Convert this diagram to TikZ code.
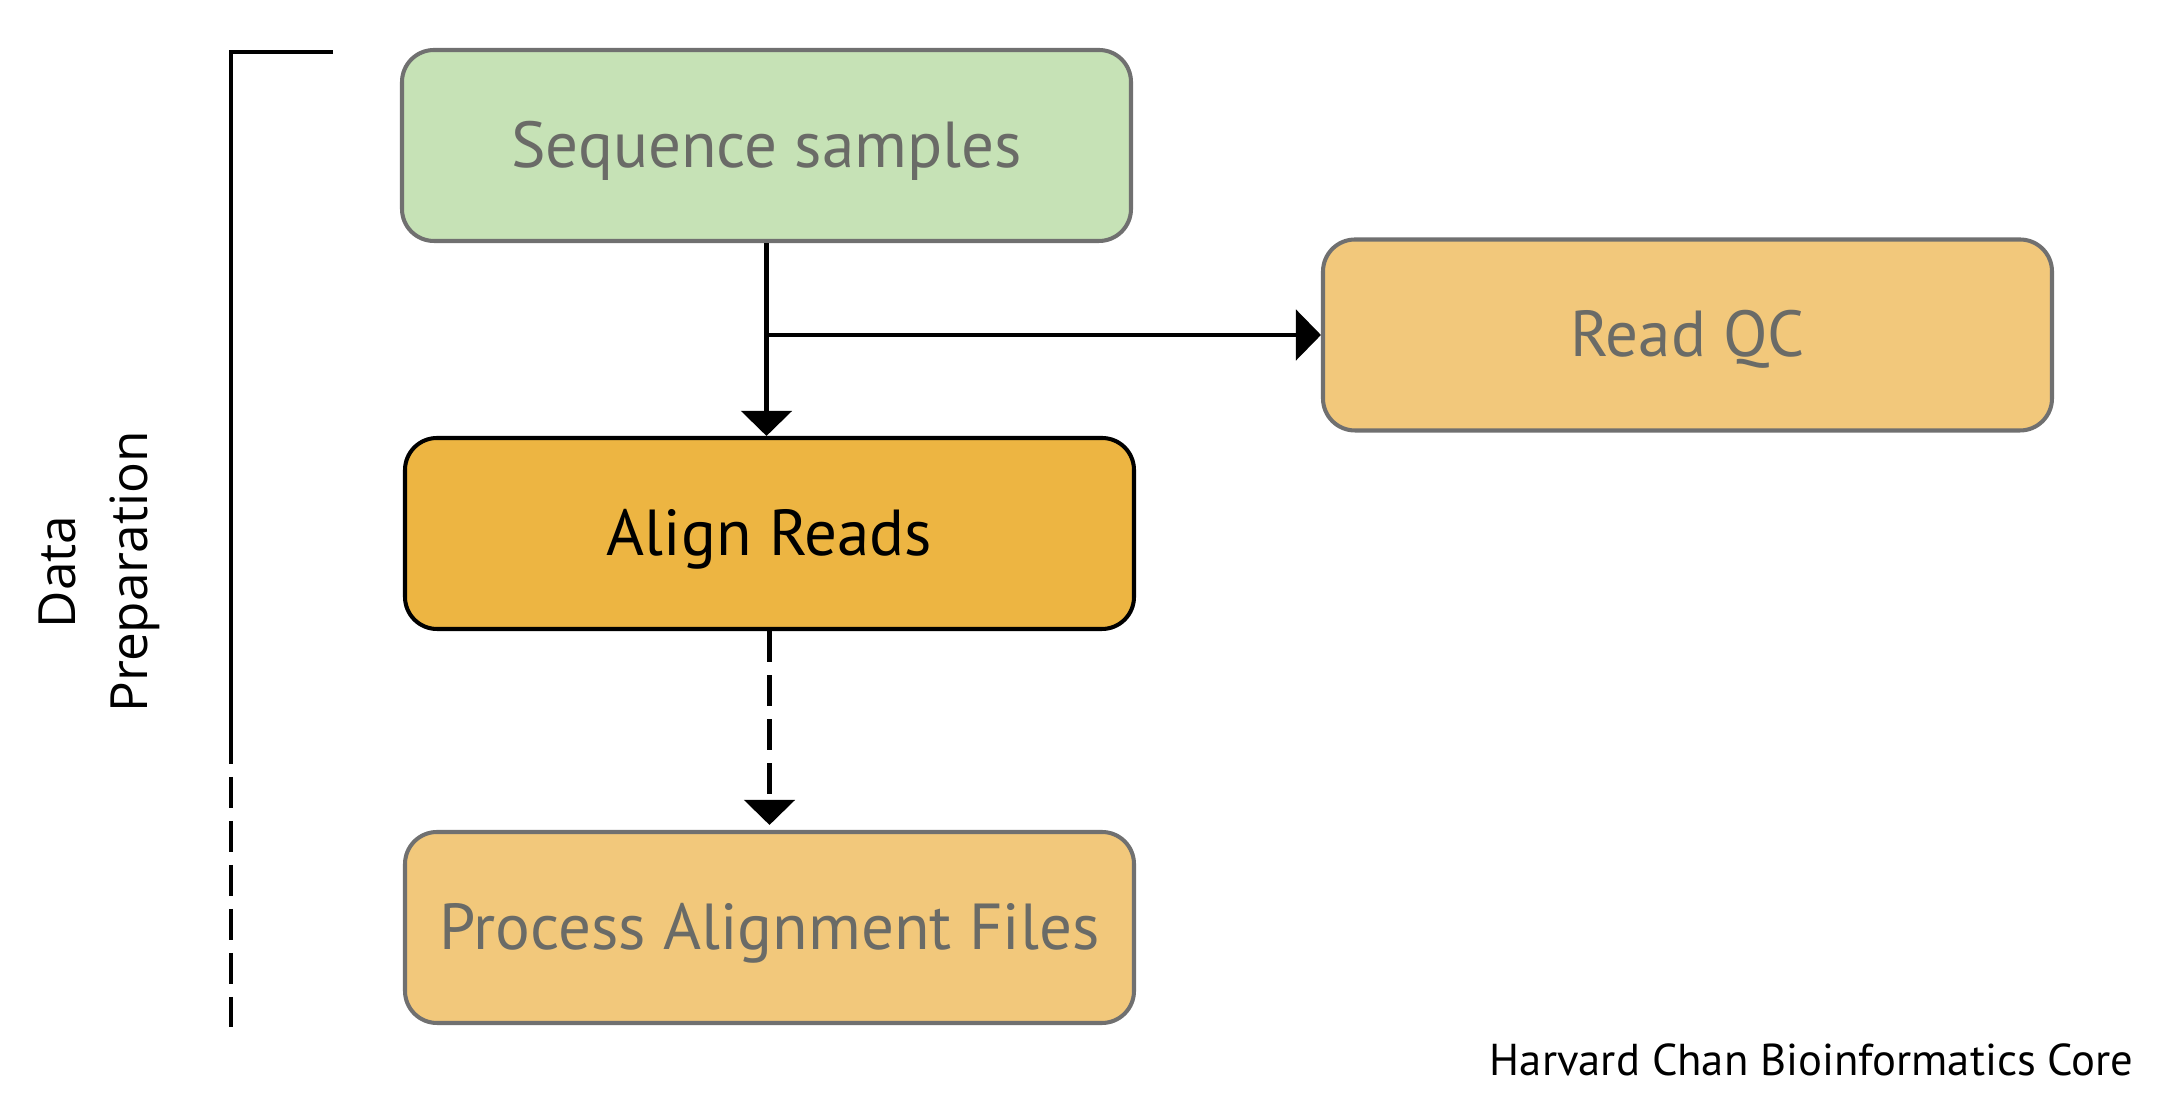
\documentclass[tikz,border=0pt]{standalone}
\usepackage{fontspec}
\setmainfont{PT Sans}
\newfontfamily\sidefont{Open Sans}
\usetikzlibrary{arrows.meta}
\definecolor{seqgreen}{HTML}{C6E2B6}
\definecolor{lightorange}{HTML}{F2C87B}
\definecolor{darkorange}{HTML}{EDB542}
\definecolor{boxgray}{HTML}{707070}
\definecolor{textgray}{HTML}{6A6B67}
\tikzset{
  stepbox/.style={draw=boxgray, line width=1.15pt, rounded corners=0.32cm,
    minimum width=7.29cm, minimum height=1.91cm, text=textgray,
    text height=0.6cm, text depth=0.16cm,
    font=\fontsize{18.5}{22}\selectfont},
  flow/.style={line width=1.4pt, -{Triangle[width=0.5cm,length=0.25cm]}},
  bracket/.style={line width=1.2pt},
  dashpat/.style={dash pattern=on 0.31cm off 0.13cm}
}

\begin{document}
\begin{tikzpicture}
		%%%%% START %%%%%
		\useasboundingbox (0, 0) rectangle (21.58, -11.04);
		
		\node[stepbox, fill=seqgreen] (seq) at (7.665, -1.455) {Sequence samples};
		\node[stepbox, fill=lightorange] (rqc) at (16.875, -3.35) {Read QC};
		\node[stepbox, fill=darkorange, draw=black, text=black] (aln) at (7.695, -5.335) {Align Reads};
		\node[stepbox, fill=lightorange] (paf) at (7.695, -9.275) {Process Alignment Files};
		
		\draw[flow] (seq.south) -- (seq.south |- aln.north);
		\draw[flow] (seq.south |- rqc.west) -- (rqc.west);
		\draw[flow, dashpat] (aln.south) -- ([yshift=0.05cm]paf.north);
		
		% bracket on the left
		\coordinate (btop) at (2.31, -0.52);
		\coordinate (bend) at (3.33, -0.52);
		\coordinate (bmid) at (2.31, -7.64);
		\coordinate (bbot) at (2.31, -10.27);
		\draw[bracket] (bend) -- (btop) -- (bmid);
		\draw[bracket, dashpat, dash phase=0.31cm] (bmid) -- (bbot);
		
		\node[rotate=90, align=center, font=\sidefont\fontsize{14.6}{20.5}\selectfont] (dprep) at (0.99, -5.72) {Data\\Preparation};
		
		\node[anchor=east, font=\fontsize{12.7}{15}\selectfont] (credit) at (21.46, -10.60) {Harvard Chan Bioinformatics Core};
		
		%%%%% END %%%%%
	\end{tikzpicture}
\end{document}
